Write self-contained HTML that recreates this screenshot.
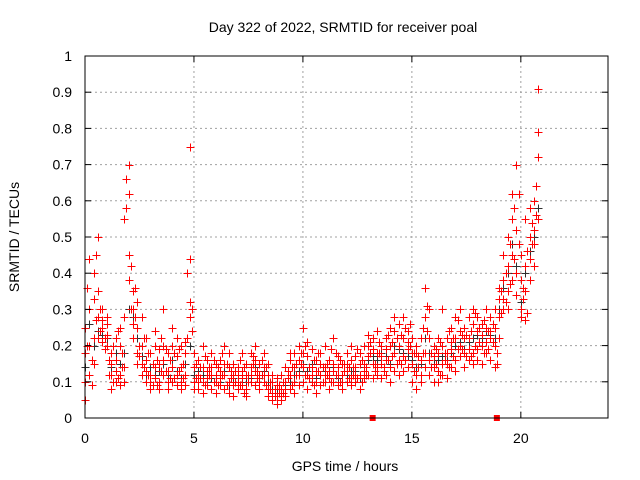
<!DOCTYPE html>
<html><head><meta charset="utf-8"><style>
body{margin:0;background:#fff}
svg{display:block;font-family:"Liberation Sans",sans-serif}
</style></head><body>
<svg id="chart" width="640" height="480" viewBox="0 0 640 480" xmlns="http://www.w3.org/2000/svg">
<text x="343" y="32" font-size="14" text-anchor="middle" fill="#000">Day 322 of 2022, SRMTID for receiver poal</text>
<text x="345" y="471" font-size="14" text-anchor="middle" fill="#000">GPS time / hours</text>
<text x="19" y="237" font-size="14" text-anchor="middle" fill="#000" transform="rotate(-90 19 237)">SRMTID / TECUs</text>
<g id="grid"></g><g id="dark"></g><g id="red"></g><g id="axes"></g>
</svg>
<script>
const xTicks=[0,5,10,15,20];
const yTicks=[0,0.1,0.2,0.3,0.4,0.5,0.6,0.7,0.8,0.9,1];
const yTickLabels=["0","0.1","0.2","0.3","0.4","0.5","0.6","0.7","0.8","0.9","1"];
const times=[0.0,0.2,0.4,0.6,0.8,1.0,1.2,1.4,1.6,1.8,2.0,2.2,2.4,2.6,2.8,3.0,3.2,3.4,3.6,3.8,4.0,4.2,4.4,4.6,4.8,5.0,5.2,5.4,5.6,5.8,6.0,6.2,6.4,6.6,6.8,7.0,7.2,7.4,7.6,7.8,8.0,8.2,8.4,8.6,8.8,9.0,9.2,9.4,9.6,9.8,10.0,10.2,10.4,10.6,10.8,11.0,11.2,11.4,11.6,11.8,12.0,12.2,12.4,12.6,12.8,13.0,13.2,13.4,13.6,13.8,14.0,14.2,14.4,14.6,14.8,15.0,15.2,15.4,15.6,15.8,16.0,16.2,16.4,16.6,16.8,17.0,17.2,17.4,17.6,17.8,18.0,18.2,18.4,18.6,18.8,19.0,19.2,19.4,19.6,19.8,20.0,20.2,20.4,20.6,20.8];
const timesB=[0.1,0.3,0.5,0.7,0.9,1.1,1.3,1.5,1.7,1.9,2.1,2.3,2.5,2.7,2.9,3.1,3.3,3.5,3.7,3.9,4.1,4.3,4.5,4.7,4.9,5.1,5.3,5.5,5.7,5.9,6.1,6.3,6.5,6.7,6.9,7.1,7.3,7.5,7.7,7.9,8.1,8.3,8.5,8.7,8.9,9.1,9.3,9.5,9.7,9.9,10.1,10.3,10.5,10.7,10.9,11.1,11.3,11.5,11.7,11.9,12.1,12.3,12.5,12.7,12.9,13.1,13.3,13.5,13.7,13.9,14.1,14.3,14.5,14.7,14.9,15.1,15.3,15.5,15.7,15.9,16.1,16.3,16.5,16.7,16.9,17.1,17.3,17.5,17.7,17.9,18.1,18.3,18.5,18.7,18.9,19.1,19.3,19.5,19.7,19.9,20.1,20.3,20.5,20.7];
const redA=[.10,.44,.22,.50,.25,.23,.12,.16,.12,.14,.70,.30,.25,.12,.10,.12,.14,.10,.12,.10,.14,.12,.10,.12,.75,.10,.12,.14,.09,.12,.10,.13,.20,.10,.12,.10,.13,.08,.12,.20,.10,.14,.08,.07,.06,.08,.10,.12,.14,.16,.25,.12,.14,.10,.12,.14,.11,.15,.12,.10,.13,.11,.14,.12,.15,.17,.15,.18,.20,.16,.14,.18,.20,.22,.19,.15,.12,.16,.36,.22,.14,.18,.20,.15,.19,.22,.30,.18,.22,.26,.24,.20,.25,.22,.30,.28,.38,.50,.62,.70,.30,.42,.50,.60,.91];
const redB=[.25,.12,.40,.28,.30,.26,.18,.10,.20,.28,.62,.22,.18,.20,.16,.18,.20,.15,.30,.18,.20,.09,.14,.18,.44,.18,.08,.20,.13,.18,.15,.09,.12,.14,.09,.14,.18,.12,.18,.13,.15,.18,.12,.10,.09,.05,.06,.16,.10,.12,.14,.17,.10,.16,.18,.10,.16,.10,.17,.15,.18,.16,.10,.18,.11,.23,.19,.14,.15,.22,.20,.24,.16,.17,.24,.22,.18,.12,.28,.16,.20,.13,.30,.22,.25,.16,.20,.25,.28,.18,.19,.26,.18,.28,.20,.33,.30,.35,.45,.40,.28,.55,.44,.52,.79];
const redC=[.05,.30,.15,.22,.21,.20,.08,.22,.09,.10,.45,.35,.32,.15,.13,.10,.11,.08,.20,.13,.10,.17,.20,.09,.32,.14,.16,.10,.16,.08,.07,.16,.08,.07,.15,.08,.09,.15,.10,.09,.08,.10,.06,.05,.04,.12,.14,.08,.18,.20,.10,.08,.19,.07,.09,.20,.08,.22,.09,.12,.10,.09,.17,.08,.20,.12,.11,.24,.11,.12,.10,.13,.26,.13,.14,.10,.08,.22,.18,.30,.10,.22,.15,.11,.14,.28,.17,.14,.16,.30,.28,.15,.30,.16,.14,.22,.45,.42,.38,.34,.38,.35,.58,.48,.72];
const redD=[.18,.20,.33,.35,.27,.28,.15,.13,.25,.55,.38,.26,.15,.28,.22,.08,.24,.19,.16,.08,.25,.22,.08,.21,.28,.08,.10,.07,.11,.14,.12,.11,.15,.18,.06,.12,.11,.06,.14,.16,.12,.12,.15,.12,.11,.07,.08,.18,.07,.09,.18,.21,.12,.13,.15,.12,.13,.13,.14,.08,.15,.20,.12,.15,.13,.20,.22,.12,.17,.19,.25,.28,.12,.28,.21,.18,.20,.10,.14,.12,.17,.10,.12,.18,.21,.13,.24,.22,.19,.15,.16,.23,.21,.24,.25,.36,.33,.30,.55,.52,.45,.27,.38,.42,.55];
const redE=[.36,.16,.45,.24,.22,.12,.20,.11,.18,.66,.42,.28,.20,.14,.18,.09,.16,.22,.13,.16,.11,.19,.15,.40,.24,.15,.11,.17,.12,.10,.14,.18,.09,.13,.10,.16,.07,.12,.15,.11,.16,.09,.10,.08,.07,.10,.13,.09,.15,.18,.20,.11,.16,.13,.10,.15,.19,.12,.16,.13,.11,.14,.19,.10,.14,.18,.13,.21,.14,.23,.17,.22,.15,.25,.20,.13,.17,.25,.31,.18,.15,.21,.16,.24,.17,.27,.19,.23,.17,.29,.21,.27,.19,.26,.15,.29,.40,.37,.58,.48,.33,.46,.54,.64];
const redF=[.20,.09,.27,.30,.19,.16,.10,.24,.14,.58,.30,.36,.17,.22,.12,.15,.09,.13,.19,.11,.18,.13,.11,.22,.30,.11,.14,.09,.14,.16,.09,.12,.15,.11,.13,.09,.14,.10,.17,.13,.12,.14,.08,.06,.09,.07,.11,.14,.12,.15,.12,.14,.09,.18,.14,.12,.10,.18,.10,.15,.14,.12,.11,.16,.12,.21,.15,.18,.13,.16,.21,.15,.23,.16,.26,.18,.14,.18,.24,.14,.19,.12,.18,.14,.22,.19,.23,.17,.24,.20,.25,.18,.24,.21,.18,.35,.32,.48,.44,.62,.36,.29,.48,.56];
const darkV=[.14,.26,.20,.24,.23,.22,.14,.18,.15,.18,.30,.28,.22,.17,.12,.14,.12,.13,.15,.12,.16,.13,.11,.15,.20,.12,.13,.12,.10,.11,.12,.10,.13,.09,.11,.10,.12,.10,.11,.14,.11,.13,.10,.08,.07,.06,.09,.10,.12,.13,.15,.13,.15,.11,.12,.13,.12,.14,.11,.12,.12,.13,.13,.11,.14,.16,.17,.16,.18,.17,.15,.20,.19,.18,.17,.16,.14,.15,.22,.18,.15,.16,.17,.16,.18,.20,.21,.19,.21,.22,.23,.22,.24,.23,.22,.30,.36,.40,.48,.42,.32,.40,.46,.50,.58];
const zeroT=[13.2,18.9];
const zeroV=[0,0];

const X0=85,X1=608,Y0=418,Y1=56,XMAX=24;
const sx=t=>X0+(X1-X0)*t/XMAX;
const sy=v=>Y0-(Y0-Y1)*v;
const NS="http://www.w3.org/2000/svg";
function mk(tag,attrs,parent){const e=document.createElementNS(NS,tag);for(const k in attrs)e.setAttribute(k,attrs[k]);parent.appendChild(e);return e;}
const grid=document.getElementById('grid'),axes=document.getElementById('axes');
xTicks.forEach((t,i)=>{
  if(t>0){const g=mk('line',{x1:sx(t),x2:sx(t),y1:Y0,y2:Y1,stroke:'#a0a0a0','stroke-dasharray':'2,3'},grid);
  
  }
  mk('line',{x1:sx(t),x2:sx(t),y1:Y0,y2:Y0-6,stroke:'#000'},axes);
  mk('line',{x1:sx(t),x2:sx(t),y1:Y1,y2:Y1+6,stroke:'#000'},axes);
  const l=mk('text',{x:sx(t),y:Y0+25,'font-size':14,'text-anchor':'middle'},axes);l.textContent=String(t);
  
  
});
yTicks.forEach((v,i)=>{
  if(v>0&&v<1){const g=mk('line',{x1:X0,x2:X1,y1:sy(v),y2:sy(v),stroke:'#a0a0a0','stroke-dasharray':'2,3'},grid);
  
  }
  mk('line',{x1:X0,x2:X0+6,y1:sy(v),y2:sy(v),stroke:'#000'},axes);
  mk('line',{x1:X1,x2:X1-6,y1:sy(v),y2:sy(v),stroke:'#000'},axes);
  const l=mk('text',{x:X0-13,y:sy(v)+5,'font-size':14,'text-anchor':'end'},axes);l.textContent=yTickLabels[i];
  
  
});
const frame=mk('rect',{x:X0,y:Y1,width:X1-X0,height:Y0-Y1,fill:'none',stroke:'#000'},axes);


function plus(ts,vs,col,g,name){let d='';ts.forEach((t,i)=>{const x=Math.round(sx(t))+.5,y=Math.round(sy(vs[i]))+.5;d+=`M${x-4} ${y}h8M${x} ${y-4}v8`;});
  const p=mk('path',{d:d,stroke:col,'stroke-width':1,fill:'none'},g);
  
  }
const dark=document.getElementById('dark'),red=document.getElementById('red');
plus(times,darkV,'#303030',dark,'dark-series-points');
plus(times,redA,'#ff0000',red,'red-series-points-a');
plus(times,redB,'#ff0000',red,'red-series-points-b');
plus(times,redC,'#ff0000',red,'red-series-points-c');
plus(times,redD,'#ff0000',red,'red-series-points-d');
plus(timesB,redE,'#ff0000',red,'red-series-points-e');
plus(timesB,redF,'#ff0000',red,'red-series-points-f');
zeroT.forEach((t,i)=>{const r=mk('rect',{x:sx(t)-3,y:sy(zeroV[i])-3,width:6,height:6,fill:'#ff0000'},red);
  
  });
</script>
</body></html>
